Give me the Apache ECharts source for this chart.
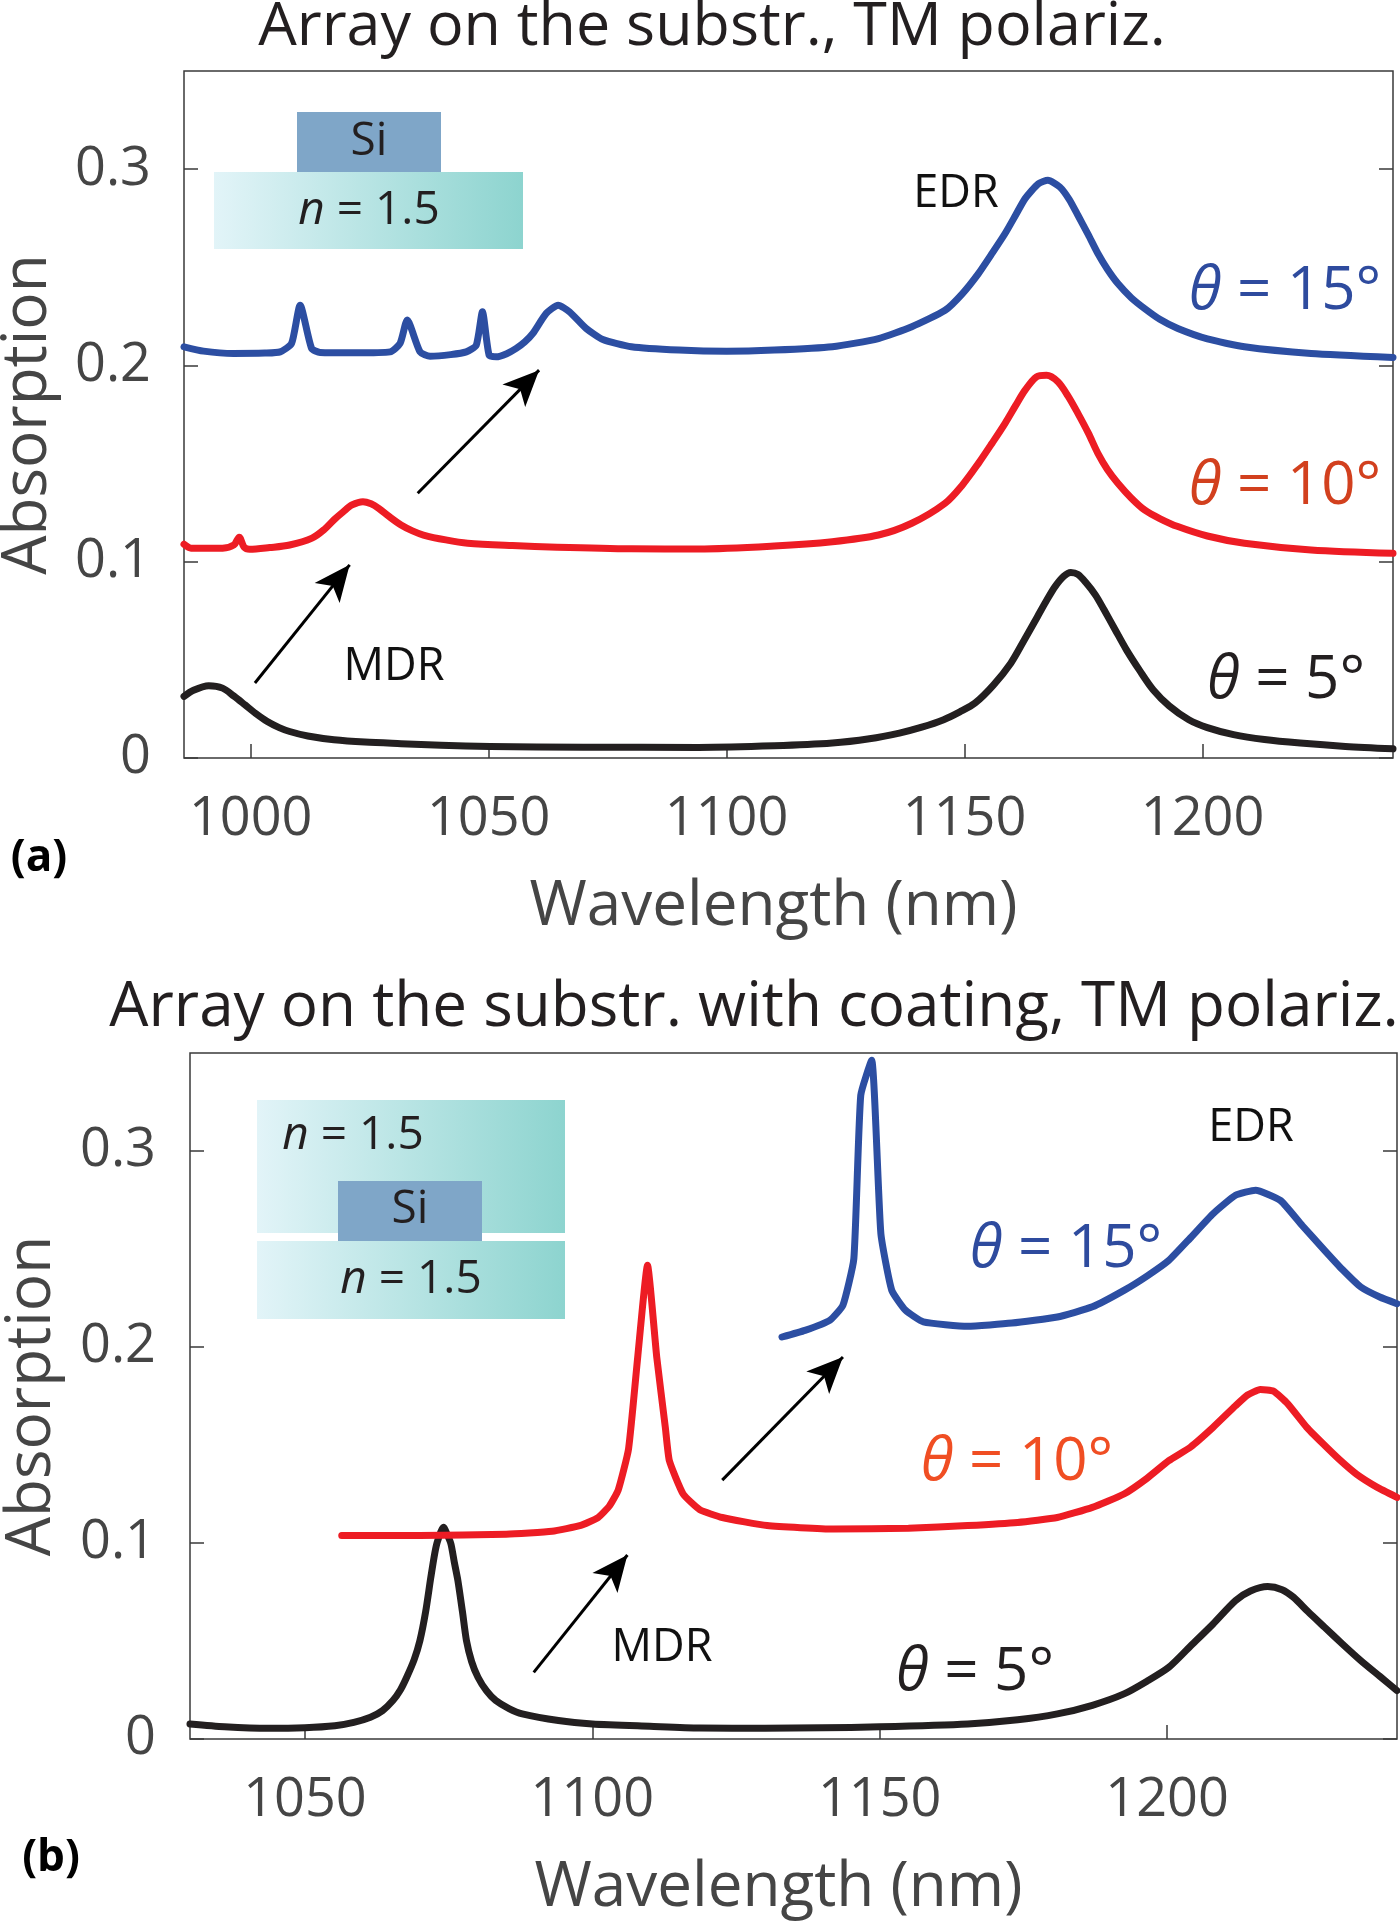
<!DOCTYPE html>
<html><head><meta charset="utf-8">
<script src="https://cdn.jsdelivr.net/npm/echarts@6/dist/echarts.min.js"></script>
<style>html,body{margin:0;padding:0;background:#fff}#c{width:1400px;height:1927px}</style>
</head><body><div id="c"></div>
<script>
// ---------- data ----------
const xTicksA = [1000, 1050, 1100, 1150, 1200];
const xTicksB = [1050, 1100, 1150, 1200];
const yTicks = [0, 0.1, 0.2, 0.3];

// panel (a): array on the substrate
const a5 = [[986,0.0314],[988,0.0345],[991.2,0.0368],[994.1,0.0356],[996.5,0.0315],[998.8,0.0271],[1001,0.0228],[1003.5,0.0186],[1006,0.0155],[1008.2,0.0135],[1012,0.0112],[1017.5,0.0093],[1024,0.0081],[1031.6,0.0073],[1040,0.0065],[1050.3,0.0059],[1070,0.0055],[1094.1,0.0054],[1110,0.0062],[1122.2,0.0076],[1130,0.0098],[1136.3,0.0127],[1141,0.0157],[1145.6,0.0195],[1149,0.0235],[1152.2,0.028],[1156,0.037],[1159.7,0.0483],[1162.5,0.06],[1165.3,0.072],[1167.3,0.0806],[1169,0.0873],[1170.8,0.0925],[1172.3,0.0945],[1173.8,0.0935],[1175.6,0.089],[1177.5,0.083],[1179.3,0.0755],[1181.6,0.0655],[1184,0.0551],[1186.8,0.0445],[1189.6,0.0348],[1193,0.0265],[1197.1,0.0195],[1201,0.0155],[1206.5,0.0119],[1213,0.0094],[1220.5,0.0076],[1230,0.0059],[1240,0.0047]];
const a10 = [[986,0.1089],[987.5,0.1069],[991,0.1068],[994.1,0.1069],[996.5,0.1086],[997.6,0.1125],[998.6,0.1075],[999.8,0.1063],[1004,0.1072],[1008.2,0.1085],[1012.9,0.112],[1015.5,0.1165],[1017.5,0.1213],[1019.5,0.1255],[1021.3,0.1289],[1023.6,0.1306],[1025.3,0.1295],[1026.9,0.1272],[1029,0.1232],[1031.6,0.1187],[1034,0.1157],[1036.3,0.1136],[1041,0.1111],[1045.6,0.1094],[1055,0.1082],[1064.4,0.1074],[1080,0.1066],[1094.1,0.1065],[1110,0.108],[1122.2,0.1102],[1131.9,0.1136],[1138.9,0.1196],[1145.9,0.1298],[1149.5,0.139],[1152.9,0.1501],[1155.8,0.1605],[1158.5,0.1705],[1160.7,0.1795],[1162.7,0.1874],[1165.1,0.1942],[1167.2,0.195],[1169.6,0.1917],[1171.7,0.1845],[1173.8,0.1756],[1176,0.1655],[1178,0.1552],[1180,0.147],[1182.2,0.14],[1185,0.1325],[1187.8,0.1264],[1191,0.122],[1194.8,0.1179],[1201,0.1131],[1208.8,0.1094],[1222.8,0.106],[1240,0.1043]];
const a15 = [[986,0.2095],[990.1,0.2073],[996.4,0.2061],[1003,0.2063],[1006.2,0.2069],[1008.6,0.2112],[1010.4,0.2307],[1012.8,0.2087],[1014.6,0.2066],[1022,0.2064],[1029.3,0.2069],[1031.4,0.2112],[1032.9,0.2231],[1035.6,0.2069],[1037.7,0.2047],[1042,0.2055],[1045.3,0.2069],[1047.4,0.2103],[1048.7,0.2273],[1050.1,0.2052],[1051.6,0.2044],[1053.8,0.206],[1055.8,0.2087],[1057.6,0.212],[1059.3,0.2163],[1062.1,0.2265],[1064.6,0.2307],[1067,0.2273],[1070.5,0.2188],[1074,0.2132],[1080,0.2095],[1090,0.2078],[1100,0.2072],[1110,0.2078],[1122.2,0.2095],[1131.9,0.2137],[1138.9,0.2197],[1145.9,0.2281],[1149.5,0.2365],[1152.9,0.2468],[1155.8,0.2572],[1158.5,0.2672],[1160.7,0.2765],[1162.7,0.285],[1165.5,0.2926],[1167.5,0.2943],[1170,0.2909],[1172,0.2845],[1173.8,0.2765],[1176,0.2665],[1178,0.257],[1180,0.249],[1182.2,0.2417],[1185,0.2345],[1187.8,0.229],[1191,0.2235],[1194.8,0.2188],[1201,0.2135],[1208.8,0.2095],[1222.8,0.2061],[1240,0.2041]];

// panel (b): array on the substrate with coating
const b5 = [[1030,0.0077],[1036,0.0063],[1043.6,0.0055],[1050,0.0058],[1055.2,0.0068],[1058.5,0.0085],[1061.4,0.0111],[1063.5,0.0145],[1065.3,0.0196],[1066.6,0.025],[1067.7,0.0315],[1069,0.0405],[1070,0.0502],[1071,0.065],[1071.9,0.0825],[1072.6,0.095],[1073.1,0.1012],[1074.1,0.108],[1074.8,0.104],[1075.4,0.0995],[1076,0.09],[1076.6,0.081],[1077.4,0.065],[1078.1,0.0502],[1079,0.0395],[1080.1,0.0315],[1081.6,0.0245],[1083.2,0.0196],[1085.5,0.0155],[1087.8,0.0128],[1094.1,0.0094],[1100,0.0077],[1110,0.0065],[1118.7,0.0056],[1130,0.0055],[1140,0.0057],[1150,0.0062],[1165.3,0.0077],[1174,0.0098],[1180.9,0.0128],[1187,0.0172],[1192.5,0.023],[1196.5,0.0295],[1200.3,0.0366],[1204,0.0472],[1208,0.0587],[1211.9,0.0706],[1214.5,0.0755],[1217.5,0.0778],[1220,0.0762],[1222,0.0723],[1224.5,0.065],[1227.4,0.057],[1230.5,0.0485],[1233.7,0.04],[1237,0.032],[1240,0.0247]];
const b10 = [[1056.4,0.1038],[1070,0.1038],[1085,0.1045],[1093,0.106],[1098,0.109],[1101,0.113],[1103,0.119],[1104.5,0.127],[1106.3,0.148],[1107.9,0.195],[1109.6,0.2417],[1111.2,0.195],[1112.7,0.159],[1113.4,0.142],[1115.8,0.125],[1118.7,0.117],[1122.6,0.113],[1130.4,0.1089],[1142,0.1071],[1155,0.1075],[1165.3,0.1089],[1174,0.1105],[1180.9,0.113],[1187,0.1182],[1192.5,0.125],[1196.5,0.133],[1200.3,0.142],[1204.1,0.149],[1208,0.159],[1211.9,0.17],[1214,0.1755],[1216.2,0.1783],[1218.5,0.1775],[1221,0.171],[1224.3,0.159],[1227,0.151],[1230,0.1425],[1233,0.135],[1236.5,0.1285],[1240,0.1233]];
const b15 = [[1133,0.2051],[1137,0.2085],[1141.3,0.2136],[1143.6,0.2213],[1145.5,0.2451],[1146.7,0.3284],[1148.6,0.3463],[1150.2,0.2579],[1152.1,0.2289],[1154.5,0.2187],[1157.6,0.2128],[1165.3,0.2106],[1173,0.2122],[1180.9,0.2153],[1187,0.2205],[1192.5,0.2289],[1196.5,0.2362],[1200.3,0.2442],[1204,0.2555],[1208,0.268],[1211.9,0.2774],[1215.4,0.28],[1219.7,0.2748],[1223.5,0.262],[1227.4,0.2493],[1230.5,0.2395],[1233.7,0.2306],[1237,0.2255],[1240,0.2221]];

// arrows (wavelength, absorption) start -> end
const arrowsA = [[[1000.9,0.0382],[1020.8,0.0984]], [[1035.1,0.1349],[1060.6,0.1976]]];
const arrowsB = [[[1089.8,0.034],[1106.1,0.0939]], [[1122.6,0.1321],[1143.6,0.1949]]];

// ---------- styling ----------
const FONT = "'Open Sans', 'Noto Sans', sans-serif";
const FRAME = '#3a3a3a';
const TICKC = '#454545';
const BLUE = '#2c4ea2', RED = '#ed1c24', BLACK = '#231f20';
const LW = 7;

const chart = echarts.init(document.getElementById('c'), null, {renderer: 'canvas'});
const plainNum = v => String(v);

function xAx(grid, min, ticks) {
  return {
    gridIndex: grid, type: 'value', min: min, max: 1240,
    axisLine: {show: false},
    axisTick: {show: true, inside: true, length: 14, customValues: ticks, lineStyle: {color: FRAME, width: 1.5}},
    axisLabel: {customValues: ticks, formatter: plainNum, margin: 35, fontSize: 54, fontFamily: FONT, color: TICKC},
    splitLine: {show: false},
    name: 'Wavelength (nm)', nameLocation: 'middle', nameGap: 118,
    nameTextStyle: {fontSize: 62, fontFamily: FONT, color: TICKC, padding: [0, 30, 0, 0]}
  };
}
function yAx(grid, gap, margin) {
  return {
    gridIndex: grid, type: 'value', min: 0, max: 0.35,
    axisLine: {show: false},
    axisTick: {show: true, inside: true, length: 14, customValues: yTicks, lineStyle: {color: FRAME, width: 1.5}},
    axisLabel: {customValues: yTicks, formatter: plainNum, margin: margin, fontSize: 54, fontFamily: FONT, color: TICKC},
    splitLine: {show: false},
    name: 'Absorption', nameLocation: 'middle', nameGap: gap, nameRotate: 90,
    nameTextStyle: {fontSize: 62, fontFamily: FONT, color: TICKC}
  };
}
function yRight(grid) {
  return {
    gridIndex: grid, type: 'value', min: 0, max: 0.35, position: 'right',
    axisLine: {show: false},
    axisTick: {show: true, inside: true, length: 14, customValues: yTicks, lineStyle: {color: FRAME, width: 1.5}},
    axisLabel: {show: false}, splitLine: {show: false}
  };
}
function line(data, xi, yi, color, smooth, arrows) {
  const s = {
    type: 'line', data: data, xAxisIndex: xi, yAxisIndex: yi,
    showSymbol: false, symbol: 'none', smooth: smooth,
    lineStyle: {color: color, width: LW, join: 'round', cap: 'round'},
    emphasis: {disabled: true},
    animation: false, z: 3
  };
  if (arrows) {
    s.markLine = {
      silent: true, animation: false,
      symbol: ['none', 'arrow'], symbolSize: [24, 36],
      lineStyle: {color: '#000', width: 3, type: 'solid'},
      label: {show: false},
      emphasis: {disabled: true},
      data: arrows.map(a => [{coord: a[0]}, {coord: a[1]}])
    };
  }
  return s;
}

function txt(x, y, parts, size, color, opts) {
  let text = '', rich = {};
  parts.forEach((p, i) => {
    const k = 't' + i;
    rich[k] = {fontSize: size, fontFamily: FONT, fill: color, fontStyle: p[1] ? 'italic' : 'normal', fontWeight: (opts && opts.bold) ? 'bold' : 'normal'};
    text += '{' + k + '|' + p[0] + '}';
  });
  return {type: 'text', x: x, y: y, z: 20, silent: true,
    style: {text: text, rich: rich, align: 'center', verticalAlign: 'middle', fontSize: size, fontFamily: FONT, fill: color}};
}
const grad = () => new echarts.graphic.LinearGradient(0, 0, 1, 0, [{offset: 0, color: '#e2f4f8'}, {offset: 1, color: '#8dd4cf'}]);
function rect(x, y, w, h, fill) {
  return {type: 'rect', shape: {x: x, y: y, width: w, height: h}, style: {fill: fill}, z: 10, silent: true};
}

const TITLE = '#231f20';
const graphics = [
  txt(712, 28, [['Array on the substr., TM polariz.']], 61, TITLE),
  txt(754, 1008, [['Array on the substr. with coating, TM polariz.']], 62, TITLE),
  txt(39, 858, [['(a)']], 44, '#000', {bold: true}),
  txt(51, 1858, [['(b)']], 44, '#000', {bold: true}),
  rect(214, 172, 309, 77, grad()),
  rect(297, 112, 144, 60, '#7fa6c8'),
  txt(369, 142, [['Si']], 46, BLACK),
  txt(369, 211, [['n', true], [' = 1.5']], 46, BLACK),
  rect(257, 1100, 308, 133, grad()),
  rect(257, 1241, 308, 78, grad()),
  rect(338, 1181, 144, 60, '#7fa6c8'),
  txt(353, 1136, [['n', true], [' = 1.5']], 46, BLACK),
  txt(410, 1210, [['Si']], 46, BLACK),
  txt(411, 1280, [['n', true], [' = 1.5']], 46, BLACK),
  txt(956, 194, [['EDR']], 45, '#111'),
  txt(394, 667, [['MDR']], 45, '#111'),
  txt(1285, 292, [['θ', true], [' = 15°']], 60, '#2e4b9e'),
  txt(1285, 487, [['θ', true], [' = 10°']], 60, '#d2401e'),
  txt(1286, 681, [['θ', true], [' = 5°']], 60, BLACK),
  txt(1251, 1128, [['EDR']], 45, '#111'),
  txt(662, 1648, [['MDR']], 45, '#111'),
  txt(1066, 1250, [['θ', true], [' = 15°']], 60, '#2e4b9e'),
  txt(1017, 1463, [['θ', true], [' = 10°']], 60, '#f04e23'),
  txt(975, 1673, [['θ', true], [' = 5°']], 60, BLACK)
];

chart.setOption({
  animation: false,
  backgroundColor: '#fff',
  grid: [
    {left: 184, top: 71, width: 1209, height: 687, containLabel: false, outerBoundsMode: 'none',
     show: true, borderColor: FRAME, borderWidth: 1.5, backgroundColor: 'transparent'},
    {left: 190, top: 1053, width: 1207, height: 686, containLabel: false, outerBoundsMode: 'none',
     show: true, borderColor: FRAME, borderWidth: 1.5, backgroundColor: 'transparent'}
  ],
  xAxis: [xAx(0, 986, xTicksA), xAx(1, 1030, xTicksB)],
  yAxis: [yAx(0, 125, 33), yRight(0), yAx(1, 127, 34), yRight(1)],
  series: [
    line(a5, 0, 0, BLACK, 0.3, arrowsA),
    line(a10, 0, 0, RED, 0.3),
    line(a15, 0, 0, BLUE, 0.2),
    line(b5, 1, 2, BLACK, 0.25, arrowsB),
    line(b10, 1, 2, RED, 0.15),
    line(b15, 1, 2, BLUE, 0.15)
  ],
  graphic: graphics
});
</script></body></html>
